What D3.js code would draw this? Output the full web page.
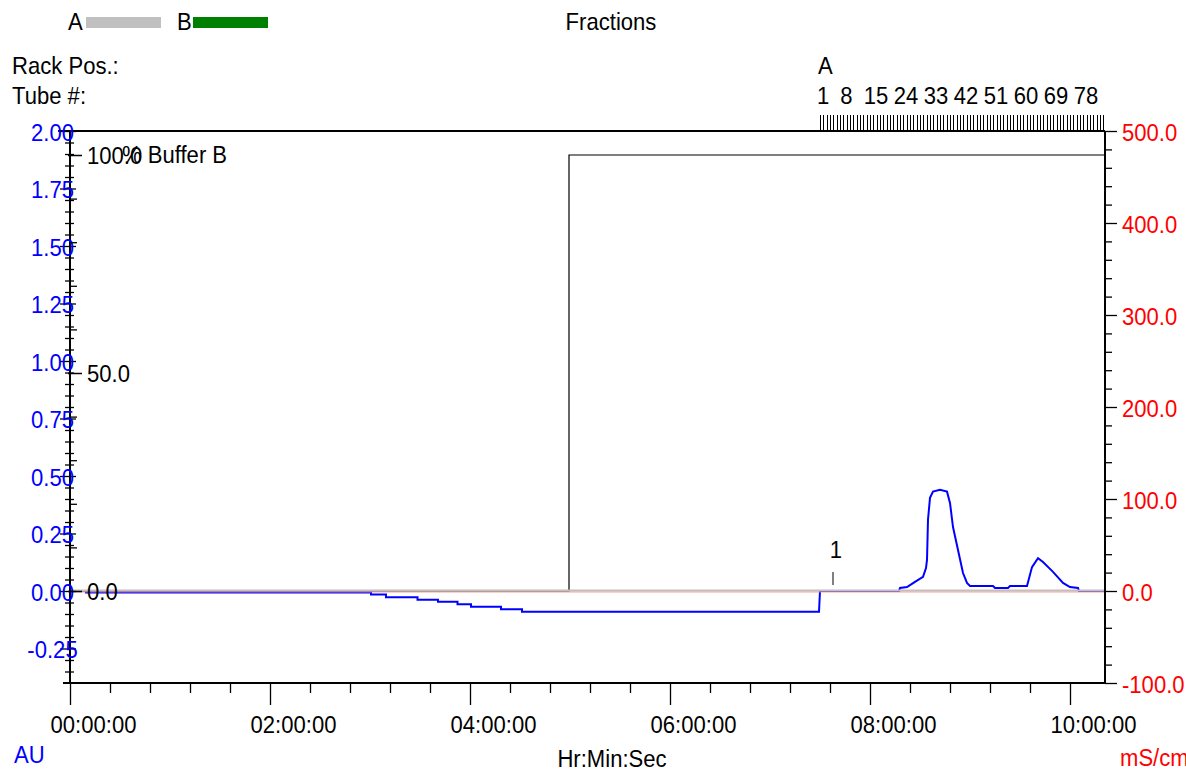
<!DOCTYPE html>
<html>
<head>
<meta charset="utf-8">
<script src="https://cdn.jsdelivr.net/npm/d3@7"></script>
<style>
  html, body { margin: 0; padding: 0; background: #fff; }
  svg { display: block; }
  text { font-family: "Liberation Sans", Arial, Helvetica, sans-serif; font-size: 24px; }
</style>
</head>
<body>
<svg id="chart" width="1186" height="771"></svg>
<script>
// ---------------- DATA ----------------
const timeDomain = [0, 10.35];               // hours
const auDomain = [-0.4, 2.0];
const condDomain = [-100, 500];
const bDomain = [0, 100];

// UV trace (AU)
const uvTime  = [0.15, 3.01, 3.01, 3.16, 3.16, 3.475, 3.475, 3.68, 3.68, 3.875, 3.875, 4.01, 4.01, 4.31, 4.31, 4.52, 4.52, 7.49,
                 7.50, 8.29, 8.30, 8.37, 8.45, 8.53, 8.56, 8.57, 8.58, 8.60, 8.63, 8.70, 8.77, 8.80, 8.83, 8.88, 8.93, 8.97,
                 9.00, 9.23, 9.25, 9.38, 9.40, 9.57, 9.62, 9.68, 9.73, 9.83, 9.93, 10.00, 10.08, 10.09, 10.35];
const uvValue = [-0.006, -0.006, -0.015, -0.015, -0.027, -0.027, -0.038, -0.038, -0.047, -0.047, -0.058, -0.058, -0.069, -0.069, -0.079, -0.079, -0.09, -0.09,
                 0.0, 0.0, 0.013, 0.017, 0.04, 0.062, 0.10, 0.135, 0.31, 0.405, 0.432, 0.44, 0.432, 0.383, 0.278, 0.178, 0.078, 0.035,
                 0.022, 0.022, 0.013, 0.013, 0.022, 0.022, 0.104, 0.143, 0.126, 0.083, 0.035, 0.017, 0.013, 0.0, 0.0];

// % Buffer B
const bTime  = [0, 4.99, 4.99, 10.35];
const bValue = [0, 0, 100, 100];

// Conductivity (mS/cm)
const condTime  = [0, 10.35];
const condValue = [0, 0];

// Ticks & labels
const xMajorTicks = [0, 2, 4, 6, 8, 10];
const xTickLabels = ["00:00:00", "02:00:00", "04:00:00", "06:00:00", "08:00:00", "10:00:00"];
const auTicks = [2.00, 1.75, 1.50, 1.25, 1.00, 0.75, 0.50, 0.25, 0.00, -0.25];
const auTickLabels = ["2.00", "1.75", "1.50", "1.25", "1.00", "0.75", "0.50", "0.25", "0.00", "-0.25"];
const condTicks = [500, 400, 300, 200, 100, 0, -100];
const condTickLabels = ["500.0", "400.0", "300.0", "200.0", "100.0", "0.0", "-100.0"];
const bTicks = [100, 50, 0];
const bTickLabels = ["100.0", "50.0", "0.0"];

// Fractions
const fractionStart = 7.5;       // hours
const fractionWidth = 1 / 30;    // hours per fraction
const fractionCount = 86;
const fractionLabels = [1, 8, 15, 24, 33, 42, 51, 60, 69, 78];
const rackLabel = "A";

// Events
const eventTime = [7.63];
const eventLabel = ["1"];

// ---------------- DRAW ----------------
const svg = d3.select("#chart");
const SX = 0.92;

const x = d3.scaleLinear(timeDomain, [70, 1105]);
const yAU = d3.scaleLinear(auDomain, [683, 131]);
const yCond = d3.scaleLinear(condDomain, [683, 131]);
const yB = d3.scaleLinear(bDomain, [591, 155]);

function txt(g, px, py, s, anchor = "start", color = "#000") {
  return g.append("text")
    .attr("transform", `translate(${px},${py}) scale(${SX},1)`)
    .attr("text-anchor", anchor)
    .attr("fill", color)
    .text(s);
}

// Legend
txt(svg, 68, 30, "A");
svg.append("rect").attr("x", 86).attr("y", 17).attr("width", 75).attr("height", 11).attr("fill", "#c0c0c0");
txt(svg, 177, 30, "B");
svg.append("rect").attr("x", 193).attr("y", 17).attr("width", 75).attr("height", 11).attr("fill", "#008000");
txt(svg, 611, 30, "Fractions", "middle");
txt(svg, 12, 74, "Rack Pos.:");
txt(svg, 12, 104, "Tube #:");

// Traces
const uvPts = uvTime.map((t, i) => [t, uvValue[i]]);
const bPts = bTime.map((t, i) => [t, bValue[i]]);
const cPts = condTime.map((t, i) => [t, condValue[i]]);

svg.append("path")
  .attr("d", d3.line().x(d => x(d[0])).y(d => yB(d[1]))(bPts))
  .attr("fill", "none").attr("stroke", "#000").attr("stroke-width", 1.2);

svg.append("path")
  .attr("d", d3.line().x(d => x(d[0])).y(d => yAU(d[1]))(uvPts))
  .attr("fill", "none").attr("stroke", "#0000ff").attr("stroke-width", 2);

// grey zero line (buffer A indicator line)
svg.append("line")
  .attr("x1", x(timeDomain[0])).attr("x2", x(timeDomain[1]))
  .attr("y1", yAU(0) - 0.5).attr("y2", yAU(0) - 0.5)
  .attr("stroke", "#c0c0c0").attr("stroke-width", 2);

svg.append("path")
  .attr("d", d3.line().x(d => x(d[0])).y(d => yCond(d[1]) + 1)(cPts))
  .attr("fill", "none").attr("stroke", "#f08c8c").attr("stroke-width", 1).attr("opacity", 0.8);

// Top border line
svg.append("line").attr("x1", 58).attr("x2", 1105).attr("y1", 131).attr("y2", 131)
  .attr("stroke", "#000").attr("stroke-width", 2);

// Fraction ticks
const fracIdx = d3.range(fractionCount);
svg.append("g").selectAll("line").data(fracIdx).join("line")
  .attr("x1", i => Math.round(x(fractionStart + i * fractionWidth)) + 0.5)
  .attr("x2", i => Math.round(x(fractionStart + i * fractionWidth)) + 0.5)
  .attr("y1", 131).attr("y2", 115)
  .attr("stroke", "#000").attr("stroke-width", 1);
fractionLabels.forEach(n => {
  txt(svg, x(fractionStart + (n - 1) * fractionWidth) - 3, 104, String(n));
});
txt(svg, x(fractionStart) - 2, 74, rackLabel);

// Event markers
eventTime.forEach((t, i) => {
  svg.append("line").attr("x1", x(t)).attr("x2", x(t)).attr("y1", 572).attr("y2", 585)
    .attr("stroke", "#000").attr("stroke-width", 1);
  txt(svg, x(t) + 3, 558, eventLabel[i], "middle");
});

// Bottom axis
const xAxisG = svg.append("g").attr("transform", "translate(0,683)");
xAxisG.append("line").attr("x1", 63).attr("x2", 1105).attr("y1", 0).attr("y2", 0)
  .attr("stroke", "#000").attr("stroke-width", 2);
const xMinor = d3.range(0, 10.35, 0.4).filter(v => !xMajorTicks.some(m => Math.abs(m - v) < 1e-6));
xAxisG.append("g").call(
  d3.axisBottom(x).tickValues(xMinor).tickSize(10).tickFormat("")
).call(g => g.select(".domain").remove());
xAxisG.append("g").call(
  d3.axisBottom(x).tickValues(xMajorTicks).tickSize(22).tickFormat((d, i) => xTickLabels[i])
).call(g => g.select(".domain").remove())
 .call(g => g.selectAll("text")
    .attr("y", null).attr("dy", null)
    .attr("transform", `translate(23,50) scale(${SX},1)`)
    .attr("font-size", 24).attr("font-family", null).attr("fill", "#000"));
xAxisG.selectAll(".tick line").attr("stroke", "#000").attr("stroke-width", 1.3);

// Left axis (AU)
svg.append("line").attr("x1", 70).attr("x2", 70).attr("y1", 131).attr("y2", 683)
  .attr("stroke", "#000").attr("stroke-width", 2);
const auMinor = d3.range(-0.35, 2.0, 0.05).map(v => Math.round(v * 100) / 100)
  .filter(v => !auTicks.some(m => Math.abs(m - v) < 1e-6));
svg.append("g").attr("transform", "translate(74,0)").call(
  d3.axisLeft(yAU).tickValues(auMinor).tickSize(9).tickFormat("")
).call(g => g.select(".domain").remove());
svg.append("g").attr("transform", "translate(76,0)").call(
  d3.axisLeft(yAU).tickValues(auTicks).tickSize(16).tickFormat((d, i) => auTickLabels[i])
).call(g => g.select(".domain").remove())
 .call(g => g.selectAll("text")
    .attr("x", null).attr("dy", null).attr("text-anchor", "middle")
    .attr("transform", `translate(-23.5,9) scale(${SX},1)`)
    .attr("font-size", 24).attr("font-family", null).attr("fill", "#0000ff"));
svg.selectAll(".tick line").attr("stroke", "#000").attr("stroke-width", 1.3);

// %B ticks & labels
const bMinor = d3.range(10, 100, 10).filter(v => v !== 50);
svg.append("g").attr("transform", "translate(70,0)").call(
  d3.axisRight(yB).tickValues(bMinor).tickSize(7).tickFormat("")
).call(g => g.select(".domain").remove())
 .selectAll("line").attr("stroke", "#000").attr("stroke-width", 1.3);
svg.append("g").attr("transform", "translate(68,0)").call(
  d3.axisRight(yB).tickValues(bTicks).tickSize(14).tickFormat((d, i) => bTickLabels[i])
).call(g => g.select(".domain").remove())
 .call(g => g.selectAll("line").attr("stroke", "#000").attr("stroke-width", 1.5))
 .call(g => g.selectAll("text")
    .attr("x", null).attr("dy", null)
    .attr("transform", `translate(19,8) scale(${SX},1)`)
    .attr("font-size", 24).attr("font-family", null).attr("fill", "#000"));
txt(svg, 122, 163, "% Buffer B");

// Right axis (mS/cm)
svg.append("line").attr("x1", 1105).attr("x2", 1105).attr("y1", 131).attr("y2", 683)
  .attr("stroke", "#000").attr("stroke-width", 2);
const condMinor = d3.range(-80, 500, 20).filter(v => v % 100 !== 0);
svg.append("g").attr("transform", "translate(1105,0)").call(
  d3.axisRight(yCond).tickValues(condMinor).tickSize(7).tickFormat("")
).call(g => g.select(".domain").remove())
 .selectAll("line").attr("stroke", "#000").attr("stroke-width", 1.3);
svg.append("g").attr("transform", "translate(1105,0)").call(
  d3.axisRight(yCond).tickValues(condTicks).tickSize(12).tickFormat((d, i) => condTickLabels[i])
).call(g => g.select(".domain").remove())
 .call(g => g.selectAll("line").attr("stroke", "#000").attr("stroke-width", 1.3))
 .call(g => g.selectAll("text")
    .attr("x", null).attr("dy", null)
    .attr("transform", `translate(17,9) scale(${SX},1)`)
    .attr("font-size", 24).attr("font-family", null).attr("fill", "#ff0000"));

// Axis titles
txt(svg, 14, 763, "AU", "start", "#0000ff");
txt(svg, 612, 767, "Hr:Min:Sec", "middle");
txt(svg, 1120, 766, "mS/cm", "start", "#ff0000");
</script>
</body>
</html>
